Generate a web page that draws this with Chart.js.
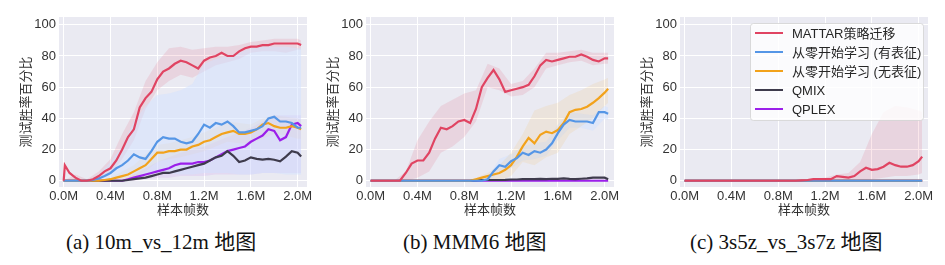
<!DOCTYPE html>
<html>
<head>
<meta charset="utf-8">
<script src="https://cdn.jsdelivr.net/npm/chart.js@4.4.0/dist/chart.umd.min.js"></script>
<style>
  body { margin: 0; width: 945px; height: 265px; background: #fff; position: relative; overflow: hidden; }
  .panel { position: absolute; top: 0; width: 320px; height: 222px; }
  .cap { position: absolute; top: 229px; font-family: "Liberation Serif", "Noto Sans CJK SC", serif; font-size: 21px; line-height: 26px; color: #111; white-space: nowrap; }
</style>
</head>
<body>
<div class="panel" style="left:0px"><canvas id="c1" width="320" height="222"></canvas></div>
<div class="panel" style="left:307px"><canvas id="c2" width="320" height="222"></canvas></div>
<div class="panel" style="left:621px"><canvas id="c3" width="320" height="222"></canvas></div>
<div class="cap" style="left:66px">(a) 10m_vs_12m 地图</div>
<div class="cap" style="left:403px">(b) MMM6 地图</div>
<div class="cap" style="left:690px">(c) 3s5z_vs_3s7z 地图</div>
<script>
// sample frames (millions) for the mean curves
const frames = [0, 0.01, 0.05,
  0.1, 0.15, 0.2, 0.25, 0.3, 0.35, 0.4, 0.45, 0.5, 0.55,
  0.6, 0.65, 0.7, 0.75, 0.8, 0.85, 0.9, 0.95, 1.0, 1.05,
  1.1, 1.15, 1.2, 1.25, 1.3, 1.35, 1.4, 1.45, 1.5, 1.55,
  1.6, 1.65, 1.7, 1.75, 1.8, 1.85, 1.9, 1.95, 2.0, 2.03];
// coarser frames for the shaded bands
const bandFrames = [0, 0.1, 0.2, 0.3, 0.4, 0.5, 0.6, 0.7, 0.8, 0.9, 1.0,
  1.1, 1.2, 1.3, 1.4, 1.5, 1.6, 1.7, 1.8, 1.9, 2.0, 2.03];

const seriesNames = ['MATTAR策略迁移', '从零开始学习 (有表征)', '从零开始学习 (无表征)', 'QMIX', 'QPLEX'];
const seriesColors = ['#E04462', '#5596E6', '#F2A21B', '#3E3B4C', '#9B1FEA'];
const bandColors = ['rgba(224,68,98,0.13)', 'rgba(210,225,255,0.5)', 'rgba(242,162,27,0.1)', 'rgba(62,59,76,0.08)', 'rgba(155,31,234,0.08)'];
const xTicks = [0, 0.4, 0.8, 1.2, 1.6, 2.0];
const yTicks = [0, 20, 40, 60, 80, 100];

const flatZero = [0, 0, 0,
  0, 0, 0, 0, 0, 0, 0, 0, 0, 0,
  0, 0, 0, 0, 0, 0, 0, 0, 0, 0,
  0, 0, 0, 0, 0, 0, 0, 0, 0, 0,
  0, 0, 0, 0, 0, 0, 0, 0, 0, 0];

// (a) 10m_vs_12m
const m10Mattar = [0, 10, 5,
  2, 0, 0, 1, 3, 6, 8, 13, 20, 28,
  33, 47, 53, 57, 65, 70, 72, 75, 77, 76,
  74, 72, 77, 79, 80, 82, 80, 80, 83, 85,
  86, 86, 87, 87, 88, 88, 88, 88, 88, 87];
const m10Rep = [0, 0, 0,
  0, 0, 0, 0.5, 1.5, 3, 5, 8, 10, 13,
  17, 15, 14, 19, 25, 28, 27, 27, 25, 24,
  25, 30, 36, 34, 37, 36, 38, 35, 31, 31,
  32, 33, 35, 40, 41, 38, 38, 37, 34, 34];
const m10NoRep = [0, 0, 0,
  0, 0, 0, 0, 0, 0.5, 1, 2, 3, 4,
  6, 8, 10, 14, 18, 18, 19, 19, 20, 20,
  22, 23, 25, 26, 28, 30, 31, 32, 30, 30,
  31, 33, 36, 37, 35, 34, 34, 35, 34, 33];
const m10Qmix = [0, 0, 0,
  0, 0, 0, 0, 0, 0, 0, 0, 0, 0.5,
  1, 1.5, 2, 3, 4, 5, 5, 6, 7, 8,
  9, 10, 11, 13, 15, 16, 19, 16, 12, 13,
  15, 14, 13.5, 14, 13.5, 12.5, 15.5, 19, 18, 15.5];
const m10Qplex = [0, 0, 0,
  0, 0, 0, 0, 0, 0, 0, 0, 0, 1,
  2, 3, 4, 5, 6, 7, 8, 10, 11, 11,
  11, 12, 12, 13, 15, 17, 19, 20, 21, 22,
  25, 27, 29, 33, 32, 26, 28, 36, 37, 35];
const m10MattarLo = [0, 0, 0, 1, 4, 14, 26, 46, 58, 64, 68, 66, 70, 74, 76, 78, 82, 83, 83, 82, 84, 84];
const m10MattarHi = [0, 4, 1, 6, 14, 30, 44, 64, 76, 85, 86, 84, 85, 86, 86, 87, 89, 90, 91, 91, 91, 90];
const m10RepLo = [0, 0, 0, 0, 0, 2, 4, 4, 5, 5, 4, 4, 5, 5, 5, 4, 4, 5, 5, 4, 4, 4];
const m10RepHi = [0, 0, 0, 4, 12, 22, 38, 48, 55, 56, 58, 62, 75, 78, 80, 82, 85, 86, 86, 86, 85, 85];
const m10NoRepLo = [0, 0, 0, 0, 0, 1, 2, 6, 12, 14, 15, 17, 19, 22, 25, 24, 24, 27, 30, 29, 27, 27];
const m10NoRepHi = [0, 0, 0, 0, 2, 6, 10, 17, 23, 24, 26, 28, 31, 34, 38, 37, 36, 40, 42, 41, 40, 39];
const m10QplexLo = [0, 0, 0, 0, 0, 0, 0, 1, 2, 2, 3, 3, 3, 4, 4, 4, 4, 5, 5, 5, 5, 5];
const m10QplexHi = [0, 0, 0, 0, 0, 0, 4, 8, 12, 15, 18, 20, 22, 25, 28, 31, 34, 38, 42, 42, 42, 42];

// (b) MMM6
const mmm6Mattar = [0, 0, 0,
  0, 0, 0, 0, 5, 11, 13, 13, 18, 27,
  34, 33, 35, 38, 39, 37, 46, 60, 66, 71,
  65, 57, 58, 59, 60, 61.5, 67, 74, 77.5, 76.5,
  77.5, 78.5, 79.5, 79.5, 81, 79.5, 77.5, 76.5, 78.5, 78.5];
const mmm6Rep = [0, 0, 0,
  0, 0, 0, 0, 0, 0, 0, 0, 0, 0,
  0, 0, 0, 0, 0, 0, 0, 0, 1, 6,
  10, 9, 12.5, 14.5, 18, 16.5, 19, 18, 20, 24,
  30.5, 36, 39, 38, 38, 38, 37, 44, 44, 43];
const mmm6NoRep = [0, 0, 0,
  0, 0, 0, 0, 0, 0, 0, 0, 0, 0,
  0, 0, 0, 0, 0, 0, 1, 2, 3, 4,
  5, 7, 10, 15.5, 22, 27.5, 24, 29.5, 31.5, 30.5,
  32.5, 37, 44, 45.5, 46, 47.5, 50, 53, 56.5, 59];
const mmm6Qmix = [0, 0, 0,
  0, 0, 0, 0, 0, 0, 0, 0, 0, 0,
  0, 0, 0, 0, 0, 0, 0.3, 0.5, 0.5, 0.5,
  0.5, 0.6, 0.8, 0.8, 1, 1, 1, 1.2, 1, 1.3,
  1.2, 1.5, 1.2, 1, 1.3, 1.5, 2, 2, 2, 1];
const mmm6MattarLo = [0, 0, 0, 0, 2, 6, 18, 22, 28, 38, 60, 58, 54, 55, 60, 72, 74, 76, 77, 74, 75, 75];
const mmm6MattarHi = [0, 0, 0, 6, 26, 38, 48, 52, 56, 58, 75, 72, 62, 64, 72, 82, 82, 83, 84, 82, 82, 82];
const mmm6RepLo = [0, 0, 0, 0, 0, 0, 0, 0, 0, 0, 0, 5, 8, 13, 14, 16, 26, 34, 34, 32, 40, 39];
const mmm6RepHi = [0, 0, 0, 0, 0, 0, 0, 0, 0, 0, 2, 14, 17, 22, 24, 25, 36, 44, 43, 42, 48, 47];
const mmm6NoRepLo = [0, 0, 0, 0, 0, 0, 0, 0, 0, 0, 0, 0, 3, 12, 10, 15, 18, 30, 35, 40, 48, 50];
const mmm6NoRepHi = [0, 0, 0, 0, 0, 0, 0, 0, 0, 2, 5, 10, 18, 30, 45, 48, 50, 55, 58, 62, 65, 66];

// (c) 3s5z_vs_3s7z
const s3Mattar = [0, 0, 0,
  0, 0, 0, 0, 0, 0, 0, 0, 0, 0,
  0, 0, 0, 0, 0, 0, 0, 0, 0.3, 0.5,
  1, 1, 1, 1, 3, 2.5, 2, 3, 6, 8.3,
  7, 7.5, 9, 11.5, 10, 9, 9, 10, 12.5, 15.5];
const s3MattarLo = [0, 0, 0, 0, 0, 0, 0, 0, 0, 0, 0, 0, 0, 0, 0, 0, 1, 2, 3, 3, 4, 5];
const s3MattarHi = [0, 0, 0, 0, 0, 0, 0, 0, 0, 0, 0.5, 1.5, 2, 4, 5, 12, 30, 44, 48, 47, 45, 44];

const baseFont = '"Liberation Sans", "Noto Sans CJK SC", sans-serif';

const plotBackground = {
  id: 'plotBackground',
  beforeDraw(chart) {
    const a = chart.chartArea;
    chart.ctx.save();
    chart.ctx.fillStyle = '#EAEAF2';
    chart.ctx.fillRect(a.left, a.top, a.right - a.left, a.bottom - a.top);
    chart.ctx.restore();
  }
};

const boxLegend = {
  id: 'boxLegend',
  afterDatasetsDraw(chart, args, opts) {
    if (!opts.show) return;
    const ctx = chart.ctx;
    const a = chart.chartArea;
    const w = 173, h = 97;
    const x0 = a.right - 5 - w, y0 = a.top + 6;
    ctx.save();
    ctx.beginPath();
    ctx.roundRect(x0 + 0.5, y0 + 0.5, w, h, 3);
    ctx.fillStyle = 'rgba(255,255,255,0.8)';
    ctx.fill();
    ctx.strokeStyle = 'rgba(210,210,210,0.8)';
    ctx.lineWidth = 1;
    ctx.stroke();
    ctx.font = '13px ' + baseFont;
    ctx.textBaseline = 'middle';
    seriesNames.forEach((name, i) => {
      const y = y0 + 10 + i * 19;
      ctx.beginPath();
      ctx.moveTo(x0 + 5, y);
      ctx.lineTo(x0 + 33, y);
      ctx.strokeStyle = seriesColors[i];
      ctx.lineWidth = 2;
      ctx.stroke();
      ctx.fillStyle = '#262626';
      ctx.fillText(name, x0 + 42, y + 1);
    });
    ctx.restore();
  }
};

function buildDatasets(lines, bands) {
  const sets = [];
  bands.forEach(b => {
    sets.push({
      data: bandFrames.map((x, i) => ({ x: x, y: b.lo[i] })),
      borderWidth: 0, borderColor: 'transparent', pointRadius: 0, fill: false, order: 20
    });
    sets.push({
      data: bandFrames.map((x, i) => ({ x: x, y: b.hi[i] })),
      borderWidth: 0, borderColor: 'transparent', pointRadius: 0, fill: '-1',
      backgroundColor: bandColors[b.s], order: 20
    });
  });
  lines.forEach((vals, s) => {
    sets.push({
      label: seriesNames[s],
      data: frames.map((x, i) => ({ x: x, y: vals[i] })),
      borderColor: seriesColors[s], borderWidth: 2.2, pointRadius: 0,
      fill: false, tension: 0, order: s + 1
    });
  });
  return sets;
}

function makeChart(id, lines, bands, showLegend) {
  new Chart(document.getElementById(id), {
    type: 'line',
    data: { datasets: buildDatasets(lines, bands) },
    options: {
      responsive: false,
      animation: false,
      layout: { padding: { left: 0, right: 13, top: 17, bottom: 0 } },
      plugins: {
        legend: { display: false },
        tooltip: { enabled: false },
        boxLegend: { show: showLegend }
      },
      scales: {
        x: {
          type: 'linear', min: -0.04, max: 2.08,
          afterBuildTicks: s => { s.ticks = xTicks.map(v => ({ value: v })); },
          afterFit: s => { s.height = 35; },
          grid: { color: '#ffffff', lineWidth: 1, drawTicks: false },
          border: { display: false },
          ticks: {
            padding: 2, color: '#333', maxRotation: 0,
            font: { family: baseFont, size: 13 },
            callback: v => v.toFixed(1) + 'M'
          },
          title: {
            display: true, text: '样本帧数', color: '#333',
            font: { family: baseFont, size: 13 },
            padding: { top: 0, bottom: 4 }
          }
        },
        y: {
          min: -4, max: 105,
          afterBuildTicks: s => { s.ticks = yTicks.map(v => ({ value: v })); },
          afterFit: s => { s.width = 59; },
          grid: { color: '#ffffff', lineWidth: 1, drawTicks: false },
          border: { display: false },
          ticks: {
            padding: 3, color: '#333',
            font: { family: baseFont, size: 13 }
          },
          title: {
            display: true, text: '测试胜率百分比', color: '#333',
            font: { family: baseFont, size: 13 },
            padding: { top: 19, bottom: 0 }
          }
        }
      }
    },
    plugins: [plotBackground, boxLegend]
  });
}

makeChart('c1',
  [m10Mattar, m10Rep, m10NoRep, m10Qmix, m10Qplex],
  [{ s: 1, lo: m10RepLo, hi: m10RepHi },
   { s: 4, lo: m10QplexLo, hi: m10QplexHi },
   { s: 2, lo: m10NoRepLo, hi: m10NoRepHi },
   { s: 0, lo: m10MattarLo, hi: m10MattarHi }],
  false);

makeChart('c2',
  [mmm6Mattar, mmm6Rep, mmm6NoRep, mmm6Qmix, flatZero],
  [{ s: 2, lo: mmm6NoRepLo, hi: mmm6NoRepHi },
   { s: 1, lo: mmm6RepLo, hi: mmm6RepHi },
   { s: 0, lo: mmm6MattarLo, hi: mmm6MattarHi }],
  false);

makeChart('c3',
  [s3Mattar, flatZero, flatZero, flatZero, flatZero],
  [{ s: 0, lo: s3MattarLo, hi: s3MattarHi }],
  true);
</script>
</body>
</html>
